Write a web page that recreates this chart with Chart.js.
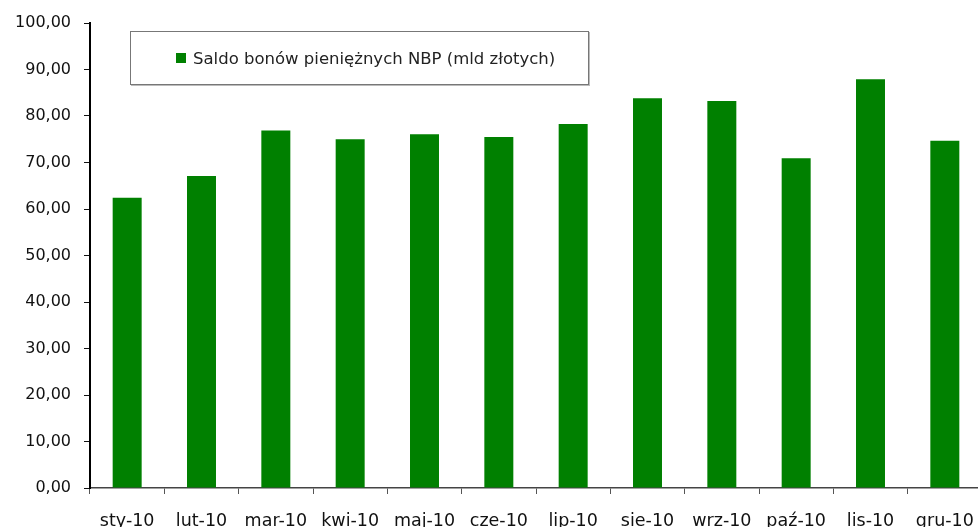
<!DOCTYPE html>
<html>
<head>
<meta charset="utf-8">
<script src="https://cdn.jsdelivr.net/npm/chart.js@4.4.0/dist/chart.umd.min.js"></script>
<style>
    body { margin: 0; background: #fff; }
    #wrap { position: relative; width: 978px; height: 527px; overflow: hidden; }
    #legenda {
        position: absolute; left: 130px; top: 31px; width: 457px; height: 52px;
        border: 1px solid #777; box-shadow: 1px 1px 0 #bbb; background: #fff;
        font-family: "DejaVu Sans", sans-serif; font-size: 16.5px; color: #222;
        display: flex; align-items: center; box-sizing: content-box;
    }
    #legenda span.kwadrat { display: inline-block; width: 10px; height: 10px; margin-left: 45px; margin-right: 7px; }
</style>
</head>
<body>
<div id="wrap">
    <canvas id="grafico" width="982" height="527"></canvas>
    <div id="legenda"><span class="kwadrat"></span><span id="legendaTexto"></span></div>
</div>
<script>
// datos del gráfico
const miesiace = ['sty-10', 'lut-10', 'mar-10', 'kwi-10', 'maj-10', 'cze-10', 'lip-10', 'sie-10', 'wrz-10', 'paź-10', 'lis-10', 'gru-10'];
const saldo = [62.4, 67.1, 76.9, 75.0, 76.1, 75.5, 78.3, 83.8, 83.2, 70.9, 87.9, 74.7];
const nombreSerie = 'Saldo bonów pieniężnych NBP (mld złotych)';
const colorBarra = '#008000';

document.querySelector('#legenda .kwadrat').style.background = colorBarra;
document.getElementById('legendaTexto').textContent = nombreSerie;

const fuenteY = { family: '"DejaVu Sans", sans-serif', size: 16 };
const fuenteX = { family: '"DejaVu Sans", sans-serif', size: 17.5 };

const ctx = document.getElementById('grafico').getContext('2d');
const grafico = new Chart(ctx, {
    type: 'bar',
    data: {
        labels: miesiace,
        datasets: [{
            label: nombreSerie,
            data: saldo,
            backgroundColor: colorBarra,
            borderWidth: 0,
            categoryPercentage: 1,
            barPercentage: 0.39
        }]
    },
    options: {
        responsive: false,
        animation: false,
        layout: { padding: { left: 0, right: 0, top: 23, bottom: 0 } },
        plugins: {
            legend: { display: false },
            tooltip: { enabled: false }
        },
        scales: {
            x: {
                offset: true,
                grid: { offset: true, drawOnChartArea: false, drawTicks: true, tickLength: 6, color: '#555', lineWidth: 1 },
                border: { display: true, color: '#444', width: 1.5 },
                ticks: { font: fuenteX, color: '#111', padding: 17, maxRotation: 0, autoSkip: false },
                afterFit: function(escala) {
                    escala.height = 39;
                    escala.paddingLeft = 0;
                    escala.paddingRight = 0;
                }
            },
            y: {
                min: 0,
                max: 100,
                grid: { drawOnChartArea: false, drawTicks: true, tickLength: 6, color: '#111', lineWidth: 1 },
                border: { display: true, color: '#000', width: 2 },
                ticks: {
                    stepSize: 10,
                    font: fuenteY,
                    color: '#111',
                    padding: 13,
                    callback: function(v) { return v.toFixed(2).replace('.', ','); }
                },
                afterFit: function(escala) { escala.width = 90; }
            }
        }
    }
});
</script>
</body>
</html>
